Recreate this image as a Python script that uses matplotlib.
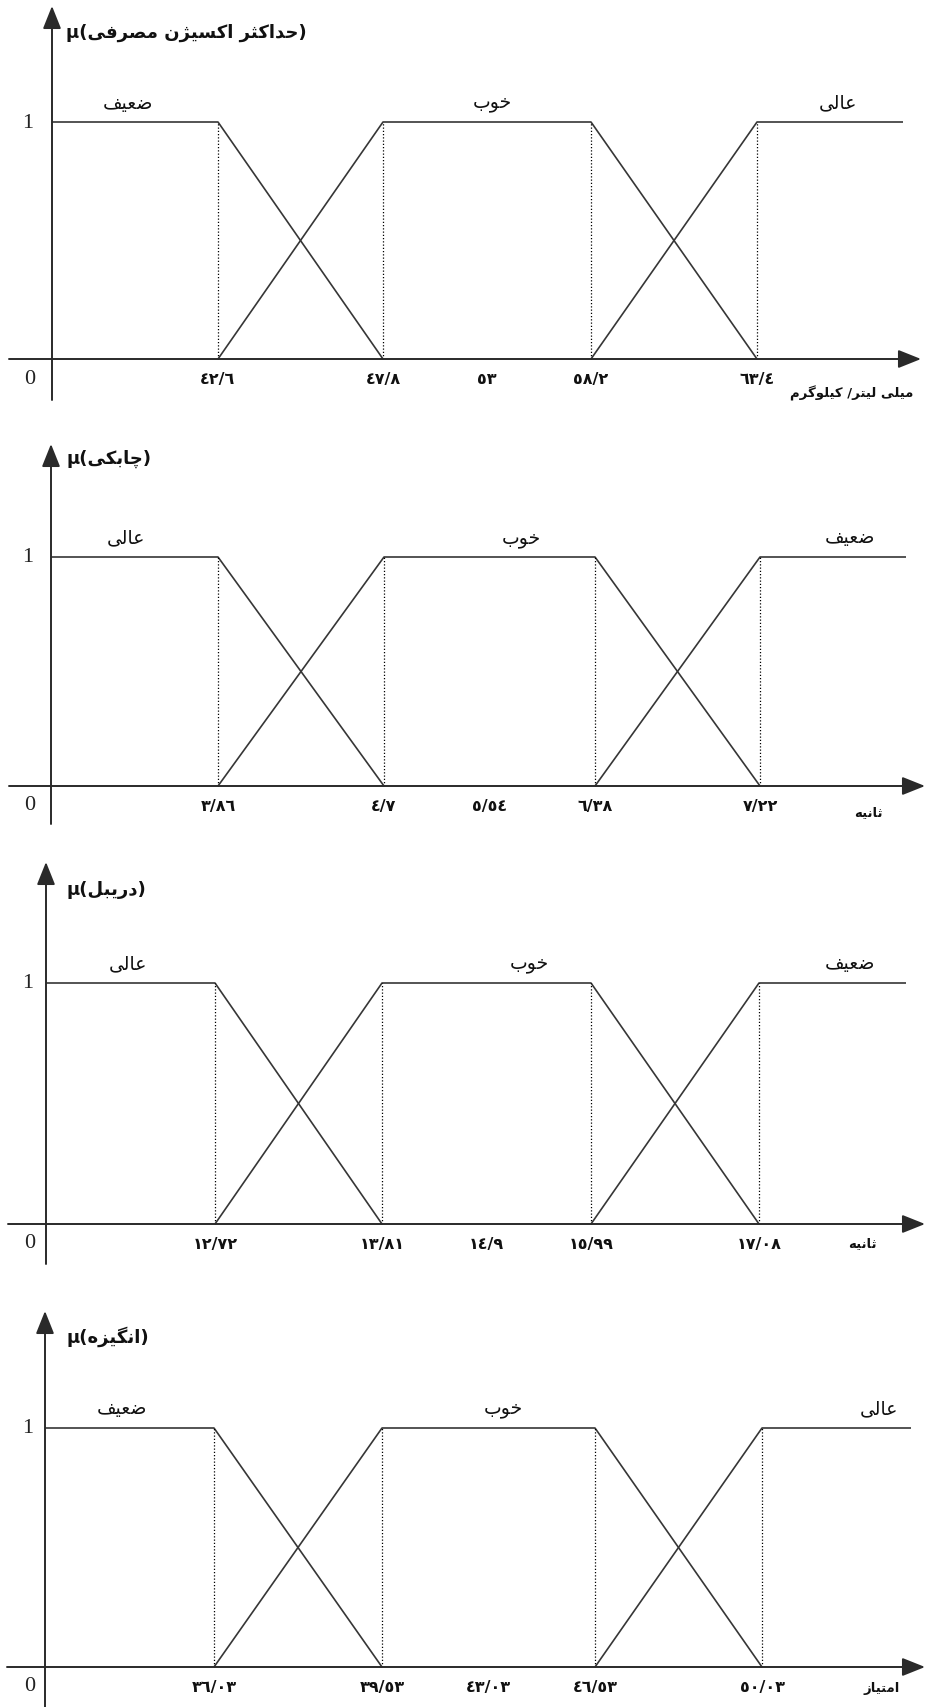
import numpy as np
import matplotlib
matplotlib.use("Agg")
import matplotlib.pyplot as plt

# ---------------- data ----------------
panel_titles = ['حداکثر اکسیژن مصرفی', 'چابکی', 'دریبل', 'انگیزه']
class_labels = [['ضعیف', 'خوب', 'عالی'],
                ['عالی', 'خوب', 'ضعیف'],
                ['عالی', 'خوب', 'ضعیف'],
                ['ضعیف', 'خوب', 'عالی']]
breakpoints = [[42.6, 47.8, 58.2, 63.4],
               [3.86, 4.7, 6.38, 7.22],
               [12.72, 13.81, 15.99, 17.08],
               [36.03, 39.53, 46.53, 50.03]]
middle_ticks = [53, 5.54, 14.9, 43.03]
tick_labels = [['٤٢/٦', '٤٧/٨', '٥٣', '٥٨/٢', '٦٣/٤'],
               ['٣/٨٦', '٤/٧', '٥/٥٤', '٦/٣٨', '٧/٢٢'],
               ['١٢/٧٢', '١٣/٨١', '١٤/٩', '١٥/٩٩', '١٧/٠٨'],
               ['٣٦/٠٣', '٣٩/٥٣', '٤٣/٠٣', '٤٦/٥٣', '٥٠/٠٣']]
unit_labels = ['میلی لیتر/ کیلوگرم', 'ثانیه', 'ثانیه', 'امتیاز']

# ---------------- layout (pixels of the 927x1708 image) ----------------
W, H = 927, 1708
layout = [
    dict(top=7, bottom=401, y0=360, y1=123, yaxis=52, bp=[218, 383, 591, 757], end=903,
         xstart=9, xtip=921, title_y=33, lab_x=[128, 492, 838], unit=(852, 393)),
    dict(top=445, bottom=825, y0=787, y1=558, yaxis=51, bp=[218, 384, 595, 760], end=906,
         xstart=9, xtip=925, title_y=459, lab_x=[126, 521, 850], unit=(868, 813)),
    dict(top=863, bottom=1265, y0=1225, y1=984, yaxis=46, bp=[215, 382, 591, 759], end=906,
         xstart=8, xtip=925, title_y=890, lab_x=[128, 529, 850], unit=(862, 1244)),
    dict(top=1312, bottom=1712, y0=1668, y1=1429, yaxis=45, bp=[214, 382, 595, 762], end=911,
         xstart=7, xtip=925, title_y=1337, lab_x=[122, 503, 879], unit=(882, 1689)),
]

# ---------------- Persian shaping (presentation forms, visual order) ----------------
FORMS = {
    'ا': ('\uFE8D', '\uFE8E'), 'د': ('\uFEA9', '\uFEAA'), 'ذ': ('\uFEAB', '\uFEAC'),
    'ر': ('\uFEAD', '\uFEAE'), 'ز': ('\uFEAF', '\uFEB0'), 'ژ': ('\uFB8A', '\uFB8B'),
    'و': ('\uFEED', '\uFEEE'),
    'ب': ('\uFE8F', '\uFE90', '\uFE91', '\uFE92'), 'پ': ('\uFB56', '\uFB57', '\uFB58', '\uFB59'),
    'ت': ('\uFE95', '\uFE96', '\uFE97', '\uFE98'), 'ث': ('\uFE99', '\uFE9A', '\uFE9B', '\uFE9C'),
    'ج': ('\uFE9D', '\uFE9E', '\uFE9F', '\uFEA0'), 'چ': ('\uFB7A', '\uFB7B', '\uFB7C', '\uFB7D'),
    'ح': ('\uFEA1', '\uFEA2', '\uFEA3', '\uFEA4'), 'خ': ('\uFEA5', '\uFEA6', '\uFEA7', '\uFEA8'),
    'س': ('\uFEB1', '\uFEB2', '\uFEB3', '\uFEB4'), 'ش': ('\uFEB5', '\uFEB6', '\uFEB7', '\uFEB8'),
    'ص': ('\uFEB9', '\uFEBA', '\uFEBB', '\uFEBC'), 'ض': ('\uFEBD', '\uFEBE', '\uFEBF', '\uFEC0'),
    'ع': ('\uFEC9', '\uFECA', '\uFECB', '\uFECC'), 'ف': ('\uFED1', '\uFED2', '\uFED3', '\uFED4'),
    'ق': ('\uFED5', '\uFED6', '\uFED7', '\uFED8'), 'ک': ('\uFB8E', '\uFB8F', '\uFB90', '\uFB91'),
    'گ': ('\uFB92', '\uFB93', '\uFB94', '\uFB95'), 'ل': ('\uFEDD', '\uFEDE', '\uFEDF', '\uFEE0'),
    'م': ('\uFEE1', '\uFEE2', '\uFEE3', '\uFEE4'), 'ن': ('\uFEE5', '\uFEE6', '\uFEE7', '\uFEE8'),
    'ه': ('\uFEE9', '\uFEEA', '\uFEEB', '\uFEEC'), 'ی': ('\uFBFC', '\uFBFD', '\uFBFE', '\uFBFF'),
}


def shape(s):
    out = []
    for i, c in enumerate(s):
        f = FORMS.get(c)
        if f is None:
            out.append(c)
            continue
        prev = s[i - 1] if i > 0 else None
        nxt = s[i + 1] if i + 1 < len(s) else None
        jp = prev in FORMS and len(FORMS[prev]) == 4
        jn = len(f) == 4 and nxt in FORMS
        if jp and jn:
            out.append(f[3])
        elif jp:
            out.append(f[1])
        elif jn:
            out.append(f[2])
        else:
            out.append(f[0])
    return ''.join(reversed(out))


AR = ['DejaVu Sans']
SERIF = ['Liberation Serif', 'DejaVu Serif']
LINE = '#363636'

fig = plt.figure(figsize=(W / 100, H / 100), dpi=100)

for k in range(4):
    L = layout[k]
    bps = breakpoints[k]
    step = bps[1] - bps[0]
    d_anchor = np.array([bps[0] - 100 * step] + bps + [bps[3] + 100 * step])
    p0 = L['bp']
    sl_l = (p0[1] - p0[0]) / (bps[1] - bps[0])
    sl_r = (p0[3] - p0[2]) / (bps[3] - bps[2])
    p_anchor = np.array([p0[0] - 100 * step * sl_l] + p0 + [p0[3] + 100 * step * sl_r])

    def fwd(x, d=d_anchor, p=p_anchor):
        return np.interp(x, d, p)

    def inv(x, d=d_anchor, p=p_anchor):
        return np.interp(x, p, d)

    T, B = L['top'], L['bottom']
    ax = fig.add_axes([0, 1 - B / H, 1, (B - T) / H])
    ax.set_xscale('function', functions=(fwd, inv))
    ax.set_xlim(inv(0), inv(W))
    h = L['y0'] - L['y1']
    ax.set_ylim(-(B - L['y0']) / h, (L['y0'] - T) / h)
    ax.axis('off')

    x_left = inv(L['yaxis'])
    x_end = inv(L['end'])
    b1, b2, b3, b4 = bps

    # membership functions
    ax.plot([x_left, b1, b2], [1, 1, 0], color=LINE, lw=1.2, solid_capstyle='butt')
    ax.plot([b1, b2, b3, b4], [0, 1, 1, 0], color=LINE, lw=1.2, solid_capstyle='butt')
    ax.plot([b3, b4, x_end], [0, 1, 1], color=LINE, lw=1.2, solid_capstyle='butt')
    for b in bps:
        ax.plot([b, b], [0, 1], color='black', lw=0.9, linestyle=(0, (1, 1.6)))

    # axes with arrows
    ap = dict(arrowstyle='-|>,head_length=0.7,head_width=0.28', mutation_scale=20,
              color='#2a2a2a', lw=1.4, shrinkA=0, shrinkB=0)
    ax.annotate('', xy=(L['xtip'] / W, 0), xytext=(L['xstart'] / W, 0),
                xycoords=ax.get_yaxis_transform(), arrowprops=ap, annotation_clip=False)
    ax.annotate('', xy=(L['yaxis'] / W, 1), xytext=(L['yaxis'] / W, 0),
                xycoords='axes fraction', arrowprops=ap, annotation_clip=False)

    # tick labels
    ticks = [b1, b2, middle_ticks[k], b3, b4]
    for v, lab in zip(ticks, tick_labels[k]):
        ax.annotate(lab, (v, 0), xytext=(0, -14), textcoords='offset points',
                    ha='center', va='center', fontsize=11.5, fontweight='bold',
                    family=AR, color='#111111')

    # 0 and 1 labels
    fig.text(30 / W, 1 - (L['y0'] + 19) / H, '0', ha='center', va='center',
             fontsize=16, family=SERIF, color='#222222')
    fig.text(28 / W, 1 - L['y1'] / H, '1', ha='center', va='center',
             fontsize=16, family=SERIF, color='#222222')

    # title
    fig.text(66 / W, 1 - L['title_y'] / H, 'μ(' + shape(panel_titles[k]) + ')',
             ha='left', va='center', fontsize=13, fontweight='bold', family=AR,
             color='#111111')

    # class labels
    for lx, lab in zip(L['lab_x'], class_labels[k]):
        fig.text(lx / W, 1 - (L['y1'] - 20) / H, shape(lab), ha='center', va='center',
                 fontsize=13.5, family=AR, color='#111111')

    # unit label
    ux, uy = L['unit']
    fig.text(ux / W, 1 - uy / H, shape(unit_labels[k]), ha='center', va='center',
             fontsize=9.5, fontweight='bold', family=AR, color='#111111')

fig.savefig('out.png', dpi=100)
